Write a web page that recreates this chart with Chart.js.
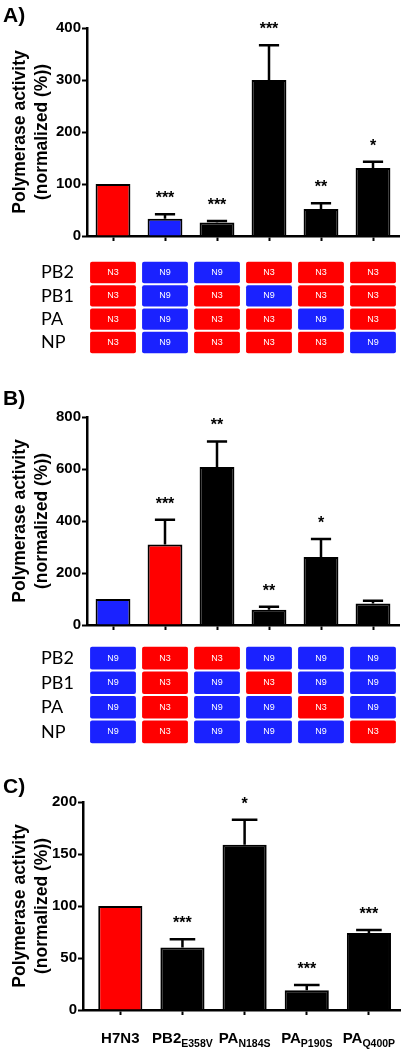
<!DOCTYPE html>
<html>
<head>
<meta charset="utf-8">
<script src="https://cdn.jsdelivr.net/npm/chart.js@4.4.1/dist/chart.umd.min.js"></script>
<style>
  body { margin: 0; background: #fff; }
  #page { position: relative; width: 406px; height: 1050px; overflow: hidden; }
  canvas { position: absolute; left: 0; }
  .panel { position: absolute; left: 3px; font: bold 21px "Liberation Sans", Arial, sans-serif; line-height: 1; color: #000; }
</style>
</head>
<body>
<div id="page">
  <canvas id="chartA" width="406" height="250" style="top:0"></canvas>
  <canvas id="tableA" width="406" height="115" style="top:250px"></canvas>
  <canvas id="chartB" width="406" height="265" style="top:370px"></canvas>
  <canvas id="tableB" width="406" height="120" style="top:635px"></canvas>
  <canvas id="chartC" width="406" height="290" style="top:760px"></canvas>
  <div class="panel" style="top:4px">A)</div>
  <div class="panel" style="top:387px">B)</div>
  <div class="panel" style="top:775px">C)</div>
</div>
<script>
const RED = '#ff0000', BLUE = '#1a22ff', BLACK = '#000000';
const FONT = '"Liberation Sans", Arial, sans-serif';

// shared
const yTitle = ['Polymerase activity', '(normalized (%))'];
const rows = ['PB2', 'PB1', 'PA', 'NP'];
const cols = ['1', '2', '3', '4', '5', '6'];

// panel A
const valuesA = [100, 33, 26, 300, 52, 131];
const errorsA = [0, 9, 3, 67, 11, 12];
const starsA = ['', '***', '***', '***', '**', '*'];
const colorsA = [RED, BLUE, BLACK, BLACK, BLACK, BLACK];
const cellsA = [
  ['N3', 'N9', 'N9', 'N3', 'N3', 'N3'],
  ['N3', 'N9', 'N3', 'N9', 'N3', 'N3'],
  ['N3', 'N9', 'N3', 'N3', 'N9', 'N3'],
  ['N3', 'N9', 'N3', 'N3', 'N3', 'N9']
];

// panel B
const valuesB = [100, 310, 608, 59, 262, 83];
const errorsB = [0, 95, 98, 11, 69, 10];
const starsB = ['', '***', '**', '**', '*', ''];
const colorsB = [BLUE, RED, BLACK, BLACK, BLACK, BLACK];
const cellsB = [
  ['N9', 'N3', 'N3', 'N9', 'N9', 'N9'],
  ['N9', 'N3', 'N9', 'N3', 'N9', 'N9'],
  ['N9', 'N3', 'N9', 'N9', 'N3', 'N9'],
  ['N9', 'N3', 'N9', 'N9', 'N9', 'N3']
];

// panel C
const labelsC = ['H7N3', 'PB2', 'PA', 'PA', 'PA'];
const subsC = ['', 'E358V', 'N184S', 'P190S', 'Q400P'];
const valuesC = [100, 60, 159, 19, 74];
const errorsC = [0, 8, 24, 5, 3];
const starsC = ['', '***', '*', '***', '***'];
const colorsC = [RED, BLACK, BLACK, BLACK, BLACK];

// error bars + significance stars on top of each bar
function errorBarPlugin(values, errors, stars) {
  return {
    id: 'errorBars',
    afterDatasetsDraw(chart) {
      const ctx = chart.ctx, y = chart.scales.y;
      chart.getDatasetMeta(0).data.forEach((bar, i) => {
        const top = y.getPixelForValue(values[i] + errors[i]);
        ctx.save();
        ctx.strokeStyle = '#000';
        ctx.lineWidth = 2.5;
        if (errors[i] > 0) {
          const half = bar.width * 0.29;
          ctx.beginPath();
          ctx.moveTo(bar.x, bar.y);
          ctx.lineTo(bar.x, top);
          ctx.moveTo(bar.x - half, top);
          ctx.lineTo(bar.x + half, top);
          ctx.stroke();
        }
        if (stars[i]) {
          ctx.fillStyle = '#000';
          ctx.font = 'bold 16px ' + FONT;
          ctx.textAlign = 'center';
          ctx.textBaseline = 'alphabetic';
          ctx.fillText(stars[i], bar.x, top - 11);
        }
        ctx.restore();
      });
    }
  };
}

function yAxis(max, step, width) {
  return {
    min: 0, max: max,
    afterFit: s => { s.width = width; },
    ticks: { stepSize: step, padding: 1, color: '#000', font: { family: FONT, size: 15, weight: 'bold' } },
    grid: { drawOnChartArea: false, drawTicks: true, tickLength: 5, tickWidth: 2, tickColor: '#000' },
    border: { display: true, color: '#000', width: 2.5 },
    title: {
      display: true, text: yTitle, color: '#000',
      font: { family: FONT, size: 17.5, weight: 'bold', lineHeight: 1.26 },
      padding: { top: 9, bottom: 0 }
    }
  };
}

const xGrid = { drawOnChartArea: false, drawTicks: true, tickLength: 5, tickWidth: 2, tickColor: '#000', offset: false };

function barChart(id, values, errors, stars, colors, yMax, yStep, padTop, xHeight) {
  new Chart(document.getElementById(id), {
    type: 'bar',
    data: {
      labels: cols,
      datasets: [{
        data: values,
        backgroundColor: colors,
        borderColor: '#000',
        borderWidth: 2,
        barPercentage: 0.67,
        categoryPercentage: 1
      }]
    },
    options: {
      responsive: false,
      animation: false,
      layout: { padding: { left: 0, right: 7, top: padTop, bottom: 0 } },
      plugins: { legend: { display: false }, tooltip: { enabled: false } },
      scales: {
        x: {
          afterFit: s => { s.height = xHeight; },
          ticks: { display: false },
          grid: xGrid,
          border: { display: true, color: '#000', width: 2.5 }
        },
        y: yAxis(yMax, yStep, 87)
      }
    },
    plugins: [errorBarPlugin(values, errors, stars)]
  });
}

function cellTextPlugin(cells) {
  return {
    id: 'cellText',
    afterDatasetsDraw(chart) {
      const ctx = chart.ctx;
      ctx.save();
      ctx.fillStyle = '#fff';
      ctx.font = '9px ' + FONT;
      ctx.textAlign = 'center';
      ctx.textBaseline = 'middle';
      chart.data.datasets.forEach((ds, ri) => {
        chart.getDatasetMeta(ri).data.forEach((el, ci) => {
          ctx.fillText(cells[ri][ci], el.x, (el.y + el.base) / 2);
        });
      });
      ctx.restore();
    }
  };
}

function tableChart(id, cells, padTop, padBottom) {
  const datasets = rows.map((r, ri) => ({
    label: r,
    data: cells[ri].map(() => 1),
    backgroundColor: cells[ri].map(c => c === 'N3' ? RED : BLUE),
    borderColor: '#fff',
    borderWidth: 1,
    borderSkipped: false,
    borderRadius: { topLeft: 3, topRight: 3, bottomLeft: 3, bottomRight: 3 },
    barPercentage: 0.92,
    categoryPercentage: 1
  }));
  new Chart(document.getElementById(id), {
    type: 'bar',
    data: { labels: cols, datasets: datasets },
    options: {
      responsive: false,
      animation: false,
      layout: { padding: { left: 41, right: 7, top: padTop, bottom: padBottom } },
      plugins: { legend: { display: false }, tooltip: { enabled: false } },
      scales: {
        x: { stacked: true, display: false },
        y: {
          stacked: true, reverse: true, min: 0, max: 4,
          grid: { display: false },
          border: { display: false },
          afterBuildTicks: s => { s.ticks = rows.map((r, i) => ({ value: i + 0.5 })); },
          afterFit: s => { s.width = 46; },
          ticks: {
            crossAlign: 'far', padding: 0, color: '#000',
            font: { family: 'Lato', size: 18 },
            callback: v => rows[Math.floor(v)]
          }
        }
      }
    },
    plugins: [cellTextPlugin(cells)]
  });
}

barChart('chartA', valuesA, errorsA, starsA, colorsA, 400, 100, 28, 14);
tableChart('tableA', cellsA, 3, 3);
barChart('chartB', valuesB, errorsB, starsB, colorsB, 800, 200, 47, 10);
tableChart('tableB', cellsB, 6, 5);

// panel C: labels with subscripts drawn under the x ticks
const subLabels = {
  id: 'subLabels',
  afterDraw(chart) {
    const ctx = chart.ctx, x = chart.scales.x;
    const base = chart.chartArea.bottom + 32.5;
    ctx.save();
    ctx.fillStyle = '#000';
    ctx.textAlign = 'left';
    ctx.textBaseline = 'alphabetic';
    labelsC.forEach((lab, i) => {
      ctx.font = 'bold 15px ' + FONT;
      const w1 = ctx.measureText(lab).width;
      ctx.font = 'bold 10.5px ' + FONT;
      const w2 = subsC[i] ? ctx.measureText(subsC[i]).width : 0;
      const left = x.getPixelForValue(i) - (w1 + w2) / 2;
      ctx.font = 'bold 15px ' + FONT;
      ctx.fillText(lab, left, base);
      if (subsC[i]) {
        ctx.font = 'bold 10.5px ' + FONT;
        ctx.fillText(subsC[i], left + w1, base + 4);
      }
    });
    ctx.restore();
  }
};

new Chart(document.getElementById('chartC'), {
  type: 'bar',
  data: {
    datasets: [{
      data: valuesC.map((v, i) => ({ x: i, y: v })),
      backgroundColor: colorsC,
      borderColor: '#000',
      borderWidth: 2,
      barPercentage: 0.71,
      categoryPercentage: 1
    }]
  },
  options: {
    responsive: false,
    animation: false,
    layout: { padding: { left: 0, right: 6, top: 42, bottom: 0 } },
    plugins: { legend: { display: false }, tooltip: { enabled: false } },
    scales: {
      x: {
        type: 'linear', min: -0.6, max: 4.5, offset: false,
        afterBuildTicks: s => { s.ticks = labelsC.map((l, i) => ({ value: i })); },
        afterFit: s => { s.height = 40; },
        ticks: { display: false },
        grid: xGrid,
        border: { display: true, color: '#000', width: 2.5 }
      },
      y: yAxis(200, 50, 83)
    }
  },
  plugins: [errorBarPlugin(valuesC, errorsC, starsC), subLabels]
});
</script>
</body>
</html>
